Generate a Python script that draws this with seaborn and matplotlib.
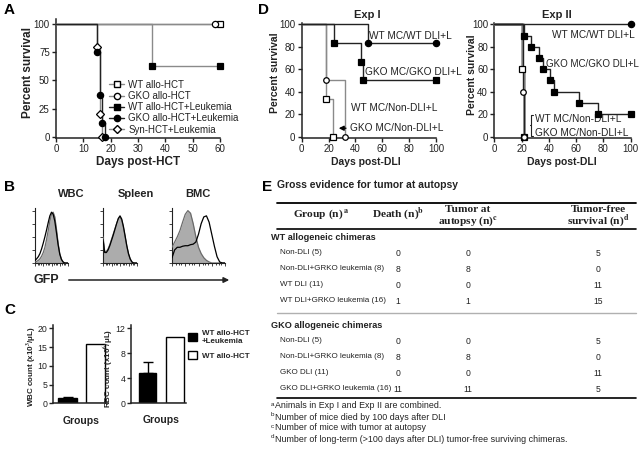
import matplotlib
matplotlib.use('Agg')
import matplotlib.pyplot as plt
import seaborn as sns
import pandas as pd
from matplotlib.lines import Line2D
from matplotlib.patches import Patch, FancyArrowPatch

W, H = 640, 458

# ---------------- Panel A: survival after HCT ----------------
a_labels = ['WT allo-HCT', 'GKO allo-HCT', 'WT allo-HCT+Leukemia',
            'GKO allo-HCT+Leukemia', 'Syn-HCT+Leukemia']
a_wt_t = [0, 60];                a_wt_s = [100, 100]
a_gko_t = [0, 58];               a_gko_s = [100, 100]
a_wtl_t = [0, 35, 60];           a_wtl_s = [100, 62.5, 62.5]
a_gkol_t = [0, 15, 16, 17, 18];  a_gkol_s = [100, 75, 37.5, 12.5, 0]
a_syn_t = [0, 15, 16, 17];       a_syn_s = [100, 80, 20, 0]

# ---------------- Panel D: survival after DLI ----------------
d1_wtdli_t = [0, 49, 100];            d1_wtdli_s = [100, 83.3, 83.3]
d1_gkodli_t = [0, 24, 44, 46, 100];   d1_gkodli_s = [100, 83.3, 66.7, 50, 50]
d1_wtnon_t = [0, 18, 32];             d1_wtnon_s = [100, 50, 0]
d1_gkonon_t = [0, 18, 23];            d1_gkonon_s = [100, 33.3, 0]

d2_wtdli_t = [0, 100];                d2_wtdli_s = [100, 100]
d2_gkodli_t = [0, 22, 27, 33, 36, 41, 44, 62, 76, 100]
d2_gkodli_s = [100, 90, 80, 70, 60, 50, 40, 30, 20, 20]
d2_wtnon_t = [0, 21, 22];             d2_wtnon_s = [100, 40, 0]
d2_gkonon_t = [0, 20, 22];            d2_gkonon_s = [100, 60, 0]

# ---------------- Panel B: GFP histograms ----------------
hist_titles = ['WBC', 'Spleen', 'BMC']
hist_x = [0.0, 0.05, 0.1, 0.15, 0.2, 0.25, 0.3, 0.35, 0.4, 0.45, 0.5,
          0.55, 0.6, 0.65, 0.7, 0.75, 0.8, 0.85, 0.9, 0.95, 1.0]
wbc_fill = [0.02, 0.03, 0.05, 0.08, 0.13, 0.2, 0.3, 0.45, 0.62, 0.8, 0.93,
            0.97, 0.88, 0.65, 0.38, 0.18, 0.07, 0.02, 0.0, 0.0, 0.0]
wbc_line = [0.05, 0.08, 0.12, 0.18, 0.27, 0.38, 0.5, 0.63, 0.77, 0.9, 0.97,
            0.93, 0.8, 0.58, 0.35, 0.17, 0.07, 0.02, 0.0, 0.0, 0.0]
spl_fill = [0.5, 0.22, 0.22, 0.27, 0.35, 0.45, 0.55, 0.65, 0.75, 0.84, 0.88,
            0.82, 0.68, 0.5, 0.32, 0.17, 0.07, 0.02, 0.0, 0.0, 0.0]
spl_line = [0.45, 0.2, 0.2, 0.25, 0.33, 0.43, 0.53, 0.64, 0.75, 0.85, 0.9,
            0.84, 0.7, 0.52, 0.33, 0.18, 0.08, 0.02, 0.0, 0.0, 0.0]
bmc_fill = [0.3, 0.4, 0.5, 0.62, 0.78, 0.93, 1.0, 0.95, 0.75, 0.5, 0.3,
            0.18, 0.1, 0.05, 0.02, 0.0, 0.0, 0.0, 0.0, 0.0, 0.0]
bmc_line = [0.1, 0.25, 0.3, 0.3, 0.32, 0.33, 0.33, 0.35, 0.36, 0.4, 0.55,
            0.75, 0.88, 0.9, 0.78, 0.55, 0.32, 0.12, 0.02, 0.0, 0.0]

# ---------------- Panel C: blood counts ----------------
c_groups = ['WT allo-HCT\n+Leukemia', 'WT allo-HCT']
wbc_vals = [1.5, 15.7];  wbc_err = [0.3, 0.0]
rbc_vals = [4.8, 10.6];  rbc_err = [1.8, 0.0]

# ---------------- Panel E: table ----------------
wt_groups = ['Non-DLI (5)', 'Non-DLI+GRKO leukemia (8)', 'WT DLI (11)', 'WT DLI+GRKO leukemia (16)']
wt_death = [0, 8, 0, 1];   wt_tumor = [0, 8, 0, 1];   wt_free = [5, 0, 11, 15]
gko_groups = ['Non-DLI (5)', 'Non-DLI+GRKO leukemia (8)', 'GKO DLI (11)', 'GKO DLI+GRKO leukemia (16)']
gko_death = [0, 8, 0, 11]; gko_tumor = [0, 8, 0, 11]; gko_free = [5, 0, 11, 5]
footnotes = [('a', 'Animals in Exp I and Exp II are combined.'),
             ('b', 'Number of mice died by 100 days after DLI'),
             ('c', 'Number of mice with tumor at autopsy'),
             ('d', 'Number of long-term (>100 days after DLI) tumor-free surviving chimeras.')]

# ====================================================================
sns.set_theme(style='ticks')
plt.rcParams['font.family'] = ['Liberation Sans', 'DejaVu Sans']
plt.rcParams['mathtext.fontset'] = 'stix'
plt.rcParams['axes.linewidth'] = 1.1
plt.rcParams['axes.edgecolor'] = '#222222'

fig = plt.figure(figsize=(W / 100, H / 100), dpi=100)
INK = '#222222'
GRAY = '#8a8a8a'


def px_axes(x0, y0, x1, y1):
    return fig.add_axes([x0 / W, 1 - y1 / H, (x1 - x0) / W, (y1 - y0) / H])


def ftext(x, y, s, **kw):
    kw.setdefault('color', INK)
    return fig.text(x / W, 1 - y / H, s, **kw)


def fline(x0, x1, y, color='black', lw=1.0):
    fig.add_artist(Line2D([x0 / W, x1 / W], [1 - y / H, 1 - y / H],
                          transform=fig.transFigure, color=color, lw=lw))


def style_ax(ax, size=7, pad=1.5):
    sns.despine(ax=ax)
    ax.tick_params(labelsize=size, length=3, width=1, pad=pad, colors=INK)
    ax.set_xlabel('')
    ax.set_ylabel('')


def km(ax, t, s, marker, filled, lcolor, lw=1.0, ms=4.5, z=3):
    df = pd.DataFrame({'t': t, 's': s})
    sns.lineplot(data=df, x='t', y='s', ax=ax, estimator=None, sort=False,
                 drawstyle='steps-post', color=lcolor, lw=lw, zorder=z)
    ax.lines[-1].set_clip_on(False)
    ax.plot(t[1:], s[1:], ls='none', marker=marker, ms=ms, mec='black', mew=0.9,
            mfc='black' if filled else 'white', clip_on=False, zorder=z + 1)


# ---------------- A ----------------
ftext(4, 3, 'A', fontsize=11, fontweight='bold', va='top', color='black')
axA = px_axes(56, 19, 220, 138)
km(axA, a_wt_t, a_wt_s, 's', False, GRAY)
km(axA, a_gko_t, a_gko_s, 'o', False, GRAY)
km(axA, a_wtl_t, a_wtl_s, 's', True, GRAY)
km(axA, a_syn_t, a_syn_s, 'D', False, GRAY, ms=4)
km(axA, a_gkol_t, a_gkol_s, 'o', True, INK)
axA.set_xlim(0, 60)
axA.set_ylim(-1.2, 104.7)
axA.set_xticks([0, 10, 20, 30, 40, 50, 60])
axA.set_yticks([0, 25, 50, 75, 100])
style_ax(axA)
hA = [Line2D([], [], color=GRAY, lw=1, marker='s', mfc='white', mec='black', ms=4.5),
      Line2D([], [], color=GRAY, lw=1, marker='o', mfc='white', mec='black', ms=4.5),
      Line2D([], [], color=INK, lw=1, marker='s', mfc='black', mec='black', ms=4.5),
      Line2D([], [], color=INK, lw=1, marker='o', mfc='black', mec='black', ms=4.5),
      Line2D([], [], color=GRAY, lw=1, marker='D', mfc='white', mec='black', ms=4)]
legA = axA.legend(hA, a_labels, loc='upper left', bbox_to_anchor=(104 / W, 1 - 75 / H),
                  bbox_transform=fig.transFigure, frameon=False, fontsize=7,
                  labelspacing=0.12, handlelength=1.6, handletextpad=0.4, borderpad=0)
for t in legA.get_texts():
    t.set_color(INK)
ftext(28, 72, 'Percent survival', rotation=90, fontsize=8.5, fontweight='bold',
      ha='center', va='center')
ftext(138, 162, 'Days post-HCT', fontsize=8.5, fontweight='bold', ha='center', va='center')

# ---------------- D ----------------
ftext(258, 3, 'D', fontsize=11, fontweight='bold', va='top', color='black')
axD1 = px_axes(301.7, 23, 436, 138)
km(axD1, d1_wtnon_t, d1_wtnon_s, 'o', False, GRAY, ms=4)
km(axD1, d1_gkonon_t, d1_gkonon_s, 's', False, GRAY)
km(axD1, d1_wtdli_t, d1_wtdli_s, 'o', True, INK)
km(axD1, d1_gkodli_t, d1_gkodli_s, 's', True, INK)
axD1.set_xlim(0, 100)
axD1.set_ylim(-1.2, 101.2)
axD1.set_xticks([0, 20, 40, 60, 80, 100])
axD1.set_yticks([0, 20, 40, 60, 80, 100])
style_ax(axD1)
axD1.text(50, 89.5, 'WT MC/WT DLI+L', fontsize=7.3, va='center', color=INK)
axD1.text(47.5, 58, 'GKO MC/GKO DLI+L', fontsize=7.3, va='center', color=INK)
axD1.text(36.5, 25.3, 'WT MC/Non-DLI+L', fontsize=7.3, va='center', color=INK)
axD1.text(36, 7.5, 'GKO MC/Non-DLI+L', fontsize=7.3, va='center', color=INK)
axD1.annotate('', xy=(25.5, 7.5), xytext=(35, 7.5),
              arrowprops=dict(arrowstyle='-|>', lw=1, color='black', mutation_scale=7))
ftext(367, 15, 'Exp I', fontsize=8, fontweight='bold', ha='center', va='center')
ftext(275, 73, 'Percent survival', rotation=90, fontsize=7.5, fontweight='bold',
      ha='center', va='center')
ftext(366, 162, 'Days post-DLI', fontsize=7.5, fontweight='bold', ha='center', va='center')

axD2 = px_axes(494.3, 23, 630.7, 138)
km(axD2, d2_gkonon_t, d2_gkonon_s, 's', False, GRAY, lw=1.8)
km(axD2, d2_wtnon_t, d2_wtnon_s, 'o', False, INK, ms=4)
km(axD2, d2_wtdli_t, d2_wtdli_s, 'o', True, INK)
km(axD2, d2_gkodli_t, d2_gkodli_s, 's', True, INK)
axD2.set_xlim(0, 100)
axD2.set_ylim(-1.2, 101.2)
axD2.set_xticks([0, 20, 40, 60, 80, 100])
axD2.set_yticks([0, 20, 40, 60, 80, 100])
style_ax(axD2)
axD2.text(42, 90.5, 'WT MC/WT DLI+L', fontsize=7.3, va='center', color=INK, clip_on=False)
axD2.text(38, 65, 'GKO MC/GKO DLI+L', fontsize=7, va='center', color=INK, clip_on=False)
axD2.text(29.5, 15.5, 'WT MC/Non-DLI+L', fontsize=7.3, va='center', color=INK, clip_on=False)
axD2.text(29.5, 3.5, 'GKO MC/Non-DLI+L', fontsize=7.3, va='center', color=INK, clip_on=False)
axD2.plot([28.5, 27, 27, 28.5], [19, 19, 1, 1], color=INK, lw=0.8, clip_on=False)
axD2.plot([27, 26], [10, 10], color=INK, lw=0.8, clip_on=False)
ftext(557, 15, 'Exp II', fontsize=8, fontweight='bold', ha='center', va='center')
ftext(472, 75, 'Percent survival', rotation=90, fontsize=7.5, fontweight='bold',
      ha='center', va='center')
ftext(562, 162, 'Days post-DLI', fontsize=7.5, fontweight='bold', ha='center', va='center')

# ---------------- B ----------------
ftext(4, 180, 'B', fontsize=11, fontweight='bold', va='top', color='black')
hist_boxes = [(35, 68), (103, 137), (172, 225)]
hist_fill = [wbc_fill, spl_fill, bmc_fill]
hist_line = [wbc_line, spl_line, bmc_line]
hist_head_x = [71, 136, 198]
for (x0, x1), fvals, lvals, title, hx in zip(hist_boxes, hist_fill, hist_line,
                                             hist_titles, hist_head_x):
    ax = px_axes(x0, 208, x1, 263)
    ax.fill_between(hist_x, fvals, color='#acacac', lw=0, zorder=2)
    ax.plot(hist_x, fvals, color='#6a6a6a', lw=0.9, zorder=3)
    sns.lineplot(x=hist_x, y=lvals, ax=ax, color='black', lw=0.9, zorder=4,
                 estimator=None, sort=False)
    ax.set_xlim(0, 1)
    ax.set_ylim(0, 1.05)
    sns.despine(ax=ax)
    ax.set_yticks([0, 0.25, 0.5, 0.75, 1.0])
    ax.set_xticks([0, 0.25, 0.5, 0.75, 1.0])
    ax.set_xticks([0.08, 0.13, 0.17, 0.33, 0.38, 0.42, 0.58, 0.63, 0.67, 0.83, 0.88, 0.92],
                  minor=True)
    ax.tick_params(which='both', labelleft=False, labelbottom=False, width=0.6,
                   colors=INK)
    ax.tick_params(which='major', length=2.5)
    ax.tick_params(which='minor', length=1.2)
    for sp in ax.spines.values():
        sp.set_linewidth(0.8)
    ftext(hx, 194, title, fontsize=8, fontweight='bold', ha='center', va='center')
ftext(33, 280, 'GFP', fontsize=9, fontweight='bold', va='center')
fig.add_artist(FancyArrowPatch((66 / W, 1 - 280 / H), (232 / W, 1 - 280 / H),
                               transform=fig.transFigure, arrowstyle='-|>',
                               mutation_scale=8, lw=1.1, color=INK))

# ---------------- C ----------------
ftext(4, 303, 'C', fontsize=11, fontweight='bold', va='top', color='black')


def bars(ax, vals, errs, xlim, ylim, yticks):
    df = pd.DataFrame({'g': c_groups, 'v': vals})
    sns.barplot(data=df, x='g', y='v', hue='g', palette=['black', 'white'],
                edgecolor='black', linewidth=1, width=0.65, legend=False, ax=ax)
    ax.errorbar([0], vals[:1], yerr=[[0], errs[:1]], fmt='none', ecolor='black',
                elinewidth=1, capsize=3.5, capthick=1, zorder=5)
    ax.set_xlim(*xlim)
    ax.set_ylim(*ylim)
    ax.set_yticks(yticks)
    ax.set_xticks([])
    style_ax(ax, size=6.3, pad=1)


axW = px_axes(53, 325, 107, 403.3)
bars(axW, wbc_vals, wbc_err, (-0.52, 1.41), (0, 20.9), [0, 5, 10, 15, 20])
axR = px_axes(131, 325, 186, 403.3)
bars(axR, rbc_vals, rbc_err, (-0.6, 1.4), (0, 12.5), [0, 4, 8, 12])
ftext(31, 367, r'WBC count (x10$^{\mathbf{3}}$/μL)', rotation=90, fontsize=5.8,
      fontweight='bold', ha='center', va='center')
ftext(108, 368, r'RBC count (x10$^{\mathbf{6}}$/μL)', rotation=90, fontsize=5.8,
      fontweight='bold', ha='center', va='center')
ftext(81, 421, 'Groups', fontsize=7.5, fontweight='bold', ha='center', va='center')
ftext(161, 420, 'Groups', fontsize=7.5, fontweight='bold', ha='center', va='center')
fig.legend(handles=[Patch(fc='black', ec='black'), Patch(fc='white', ec='black')],
           labels=c_groups, loc='upper left', bbox_to_anchor=(184 / W, 1 - 326 / H),
           frameon=False, prop=dict(weight='bold', size=5.8), handlelength=1.1,
           handleheight=1.1, labelspacing=0.8, handletextpad=0.6, borderpad=0)

# ---------------- E ----------------
ftext(262, 180, 'E', fontsize=11, fontweight='bold', va='top', color='black')
ftext(277, 185, 'Gross evidence for tumor at autopsy', fontsize=7.5,
      fontweight='bold', va='center')
TL, TR = 277, 636
fline(TL, TR, 203, lw=1.3)
serif = ['Liberation Serif', 'DejaVu Serif']
col_x = [398, 468, 598]
HS = 8.2
ftext(321, 214, r'Group (n)$^{\,\mathbf{a}}$', family=serif, fontsize=HS,
      fontweight='bold', ha='center', va='center')
ftext(col_x[0], 214, r'Death (n)$^{\mathbf{b}}$', family=serif, fontsize=HS,
      fontweight='bold', ha='center', va='center')
ftext(col_x[1], 209, 'Tumor at', family=serif, fontsize=HS, fontweight='bold',
      ha='center', va='center')
ftext(col_x[1], 221, r'autopsy (n)$^{\mathbf{c}}$', family=serif, fontsize=HS,
      fontweight='bold', ha='center', va='center')
ftext(col_x[2], 209, 'Tumor-free', family=serif, fontsize=HS, fontweight='bold',
      ha='center', va='center')
ftext(col_x[2], 221, r'survival (n)$^{\mathbf{d}}$', family=serif, fontsize=HS,
      fontweight='bold', ha='center', va='center')
fline(TL, TR, 229, lw=1.2)


def block(y0, header, groups, death, tumor, free):
    ftext(TL - 6, y0, header, fontsize=6.6, fontweight='bold', va='center')
    for i, (g, d, t, f) in enumerate(zip(groups, death, tumor, free)):
        y = y0 + 16 * (i + 1)
        ftext(TL + 3, y, g, fontsize=5.8, va='center')
        for cx, v in zip(col_x, (d, t, f)):
            ftext(cx, y, str(v), fontsize=6.2, va='center', ha='center')


block(237, 'WT allogeneic chimeras', wt_groups, wt_death, wt_tumor, wt_free)
fline(TL, TR, 313, color='#b0b0b0', lw=1.0)
block(325, 'GKO allogeneic chimeras', gko_groups, gko_death, gko_tumor, gko_free)
fline(TL, TR, 398, lw=1.2)
for i, (sup, txt) in enumerate(footnotes):
    y = 406 + 11 * i
    ftext(TL - 6, y - 2, sup, fontsize=4.5, va='center')
    ftext(TL - 2, y, txt, fontsize=6.4, va='center')

fig.savefig('out.png', dpi=100)
